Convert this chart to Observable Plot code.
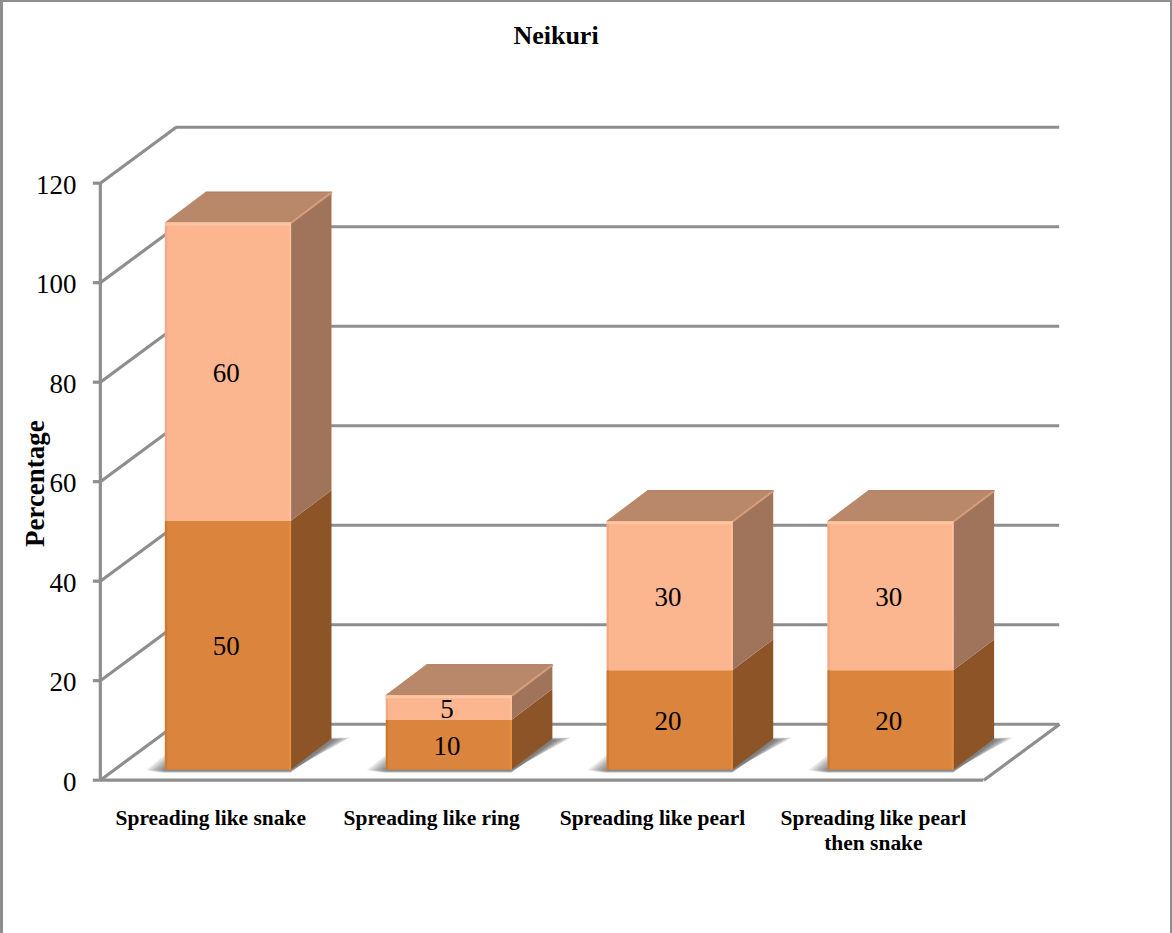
<!DOCTYPE html>
<html>
<head>
<meta charset="utf-8">
<script src="https://cdn.jsdelivr.net/npm/d3@7"></script>
<script src="https://cdn.jsdelivr.net/npm/@observablehq/plot@0.6"></script>
<style>
  html, body { margin: 0; padding: 0; background: #fff; }
  #card { position: relative; box-sizing: border-box; width: 1172px; height: 933px;
          border: solid #8e8e8e; border-width: 2px 2px 0 3px; overflow: hidden; }
  #title { position: absolute; left: -3px; top: 19px; width: 1112px; text-align: center;
           font: bold 26px "Liberation Serif", serif; color: #000; line-height: 30px; }
  #chart { position: absolute; left: -3px; top: -2px; }
  svg { display: block; }
</style>
</head>
<body>
<div id="card">
  <div id="title">Neikuri</div>
  <div id="chart"></div>
</div>
<script>
const categories = ["Spreading like snake", "Spreading like ring", "Spreading like pearl", "Spreading like pearl\nthen snake"];
const lowerValues = [50, 10, 20, 20];
const upperValues = [60, 5, 30, 30];
const yTicks = [0, 20, 40, 60, 80, 100, 120];

const lowerColors = {front: "#db843d", side: "#8c5427", left: "#c77a36", right: "#e48e3f"};
const upperColors = {front: "#fbb58f", side: "#a0745b", left: "#f0ab86", right: "#ffc09c"};
const topColor = "#b98769";
const gridColor = "#8e8e8e";
const gridWidth = 3.2;
const serif = "Liberation Serif, serif";

// Oblique projection of the chart box, expressed in scale units.
const wallDx = 0.3435, wallDy = 11.24;
const barDx = 0.1855, barDy = 6.2;
const barInset = 0.0787, barFloor = 2.0, barHalf = 0.2847;

// Feathering steps of the floor shadow: outward reach on x, drop on y.
const shadowSteps = [
  [0.085, 0.1], [0.074, 0.2], [0.063, 0.3], [0.052, 0.35],
  [0.041, 0.45], [0.03, 0.5], [0.02, 0.55], [0.01, 0.6]
];

// A parallelogram as a two-row area: a near edge and a far edge.
const quad = (x1, x2, y1, y2, dx, dy, extra) => [
  {x1, x2, y1, y2, ...extra},
  {x1: x1 + dx, x2: x2 + dx, y1: y1 + dy, y2: y2 + dy, ...extra}
];

const segments = categories.flatMap((c, i) => {
  const xl = i + 0.5 + barInset - barHalf, xr = i + 0.5 + barInset + barHalf;
  const low = lowerValues[i], up = upperValues[i];
  return [
    {i, xl, xr, v0: barFloor, v1: barFloor + low, value: low, ...lowerColors},
    {i, xl, xr, v0: barFloor + low, v1: barFloor + low + up, value: up, ...upperColors}
  ];
});

const sideFaces = segments.flatMap((s, k) =>
  quad(s.xr, s.xr, s.v0, s.v1, barDx, barDy, {k, fill: s.side}));
const topFaces = segments.filter((s, k) => k % 2).flatMap(s =>
  quad(s.xl, s.xr, s.v1, s.v1, barDx, barDy, {k: s.i, fill: topColor}));
const tops = segments.filter((s, k) => k % 2);
const feet = segments.filter((s, k) => k % 2 === 0);

const faceArea = (rows, options) => Plot.area(rows, {
  x1: "x1", x2: "x2", y1: "y1", y2: "y2", z: "k", curve: "linear", ...options
});

// The shadow fans out leftward at its near edge and rightward at its far edge.
const shadowMarks = shadowSteps.map(([reach, drop]) => {
  const rows = feet.flatMap(s => {
    const y = s.v0 - drop;
    return [
      {k: s.i, x1: s.xl - reach, x2: s.xr, y1: y, y2: y},
      {k: s.i, x1: s.xl - reach + barDx, x2: s.xr + barDx + reach, y1: y + barDy + 0.4, y2: y + barDy + 0.4}
    ];
  });
  return faceArea(rows, {fill: "#4d4d4d", fillOpacity: 0.14});
});

const chart = Plot.plot({
  width: 1172,
  height: 933,
  marginLeft: 100,
  marginRight: 187,
  marginTop: 183,
  marginBottom: 152,
  style: {background: "transparent", fontFamily: serif, overflow: "visible"},
  x: {domain: [0, 4], axis: null},
  y: {domain: [0, 120], axis: null},
  marks: [
    // Back wall, side wall and floor of the box
    Plot.ruleY(yTicks, {y: d => d + wallDy, x1: wallDx, x2: 4 + wallDx, stroke: gridColor, strokeWidth: gridWidth}),
    Plot.link(yTicks, {x1: 0, x2: wallDx, y1: d => d, y2: d => d + wallDy, stroke: gridColor, strokeWidth: gridWidth}),
    Plot.ruleX([0], {y1: 0, y2: 120, stroke: gridColor, strokeWidth: gridWidth}),
    Plot.ruleY([0], {x1: 0, x2: 4, stroke: gridColor, strokeWidth: gridWidth}),
    Plot.link([0], {x1: 4, x2: 4 + wallDx, y1: 0, y2: wallDy, stroke: gridColor, strokeWidth: gridWidth}),

    // Soft floor shadows under the bars
    ...shadowMarks,

    // Bar faces
    faceArea(sideFaces, {fill: "fill"}),
    faceArea(topFaces, {fill: "fill"}),
    Plot.rect(segments, {x1: "xl", x2: "xr", y1: "v0", y2: "v1", fill: "front", inset: 0}),

    // Bevel highlights on the bar edges
    Plot.ruleX(segments, {x: d => d.xl + 0.004, y1: "v0", y2: "v1", stroke: "left", strokeWidth: 2}),
    Plot.ruleX(segments, {x: d => d.xr - 0.004, y1: "v0", y2: "v1", stroke: "right", strokeWidth: 2}),
    Plot.ruleY(tops, {y: d => d.v1 - 0.3, x1: "xl", x2: "xr", stroke: "#ffc6a2", strokeWidth: 2.5}),
    Plot.link(tops, {x1: "xr", x2: d => d.xr + barDx, y1: "v1", y2: d => d.v1 + barDy, stroke: "#d49c7a", strokeWidth: 2}),
    Plot.ruleY(tops, {y: d => d.v1 + barDy, x1: d => d.xl + barDx, x2: d => d.xr + barDx, stroke: "#b07f62", strokeWidth: 1}),

    // Value labels
    Plot.text(segments, {
      x: d => (d.xl + d.xr) / 2, y: d => (d.v0 + d.v1) / 2, text: d => String(d.value),
      fontSize: 27, fill: "#000", fontFamily: serif, dx: -2, dy: 1
    }),

    // Axes
    Plot.axisY({
      ticks: yTicks, tickSize: 7, tickFormat: () => "", stroke: gridColor, strokeWidth: gridWidth,
      label: null, anchor: "left"
    }),
    Plot.axisY({
      ticks: yTicks, tickSize: 0, tickPadding: 24, dy: 2,
      fontSize: 27, fill: "#000", label: null, anchor: "left"
    }),
    Plot.axisX({
      ticks: categories.map((c, i) => i + 0.5), tickFormat: v => categories[v - 0.5],
      tickSize: 0, tickPadding: 27, fontSize: 21.5, fontWeight: "bold", lineHeight: 1.17,
      fill: "#000", label: null, anchor: "bottom", lineAnchor: "top"
    }),
    Plot.text(["Percentage"], {
      x: -0.295, y: 59.6, rotate: -90, fontSize: 27, fontWeight: "bold", fill: "#000", fontFamily: serif
    })
  ]
});

document.getElementById("chart").append(chart);
</script>
</body>
</html>
